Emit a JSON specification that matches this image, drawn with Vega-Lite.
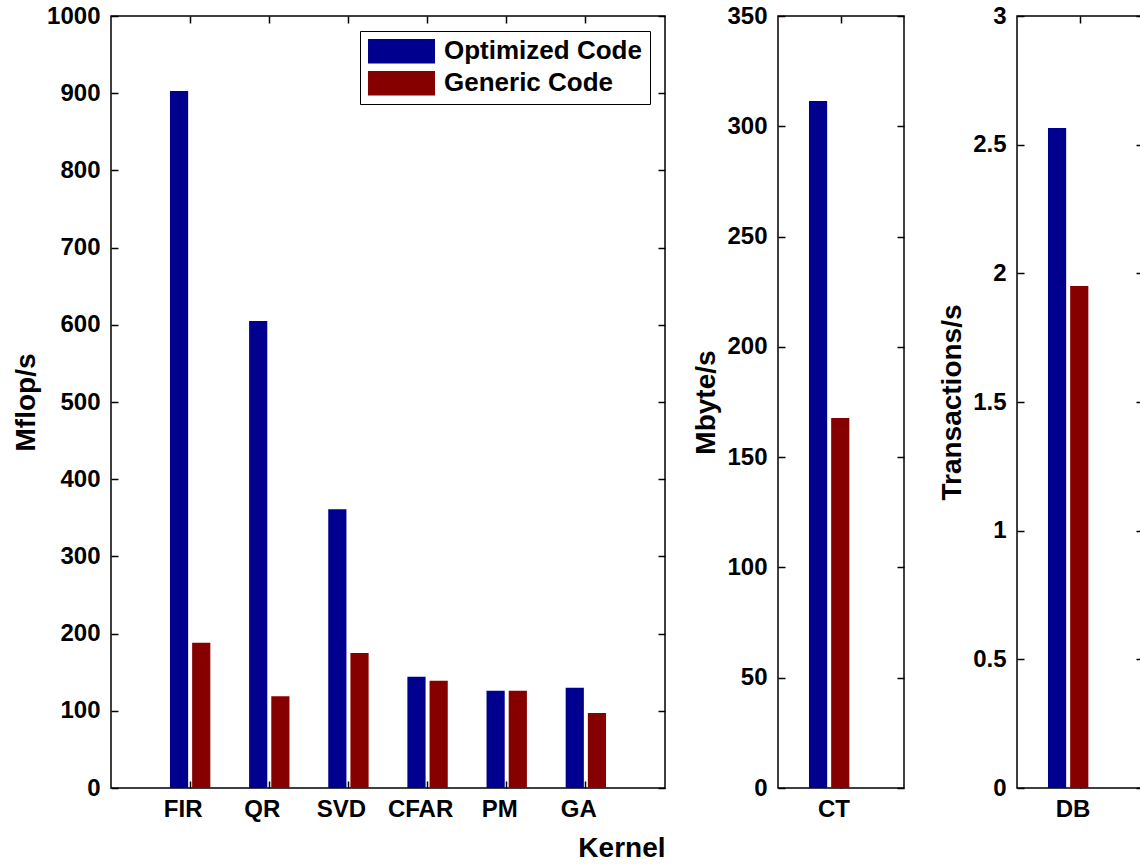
{
  "$schema": "https://vega.github.io/schema/vega-lite/v6.json",
  "background": "white",
  "padding": {"left": 11, "top": 3, "right": 0, "bottom": 0},
  "spacing": 113,
  "bounds": "flush",
  "resolve": {"scale": {"color": "independent"}, "legend": {"color": "independent"}},
  "config": {
    "font": "Liberation Sans",
    "view": {"stroke": "black", "strokeWidth": 1.5},
    "axis": {
      "domain": false,
      "grid": false,
      "ticks": true,
      "zindex": 1,
      "labelFont": "Liberation Sans",
      "labelFontWeight": "bold",
      "labelFontSize": 24,
      "labelColor": "black",
      "titleFont": "Liberation Sans",
      "titleFontWeight": "bold",
      "titleFontSize": 28,
      "titleColor": "black",
      "tickColor": "black",
      "tickWidth": 1.5,
      "tickSize": -7
    },
    "axisY": {"labelPadding": 18, "titlePadding": 6, "format": "d"},
    "axisX": {"labelPadding": 16, "labelAngle": 0, "titlePadding": 13, "labelOffset": -7},
    "legend": {
      "orient": "top-right",
      "offset": 15,
      "labelFont": "Liberation Sans",
      "labelFontWeight": "bold",
      "labelFontSize": 26,
      "labelColor": "black",
      "labelLimit": 400,
      "symbolType": "M-1,-0.37H1V0.37H-1Z",
      "symbolSize": 4489,
      "symbolStrokeWidth": 0,
      "symbolOpacity": 1,
      "strokeColor": "black",
      "fillColor": "white",
      "padding": 8,
      "rowPadding": 6,
      "labelOffset": 9,
      "clipHeight": 24
    }
  },
  "hconcat": [
    {
      "width": 554,
      "height": 772,
      "data": {"values": [
        {"kernel": "FIR", "code": "Optimized Code", "rate": 903},
        {"kernel": "FIR", "code": "Generic Code", "rate": 188},
        {"kernel": "QR", "code": "Optimized Code", "rate": 605},
        {"kernel": "QR", "code": "Generic Code", "rate": 119},
        {"kernel": "SVD", "code": "Optimized Code", "rate": 361},
        {"kernel": "SVD", "code": "Generic Code", "rate": 175},
        {"kernel": "CFAR", "code": "Optimized Code", "rate": 144},
        {"kernel": "CFAR", "code": "Generic Code", "rate": 139},
        {"kernel": "PM", "code": "Optimized Code", "rate": 126},
        {"kernel": "PM", "code": "Generic Code", "rate": 126},
        {"kernel": "GA", "code": "Optimized Code", "rate": 130},
        {"kernel": "GA", "code": "Generic Code", "rate": 97}
      ]},
      "resolve": {"axis": {"x": "independent", "y": "independent"}},
      "layer": [
        {
          "mark": {"type": "bar"},
          "encoding": {
            "x": {"field": "kernel", "type": "nominal", "sort": ["FIR", "QR", "SVD", "CFAR", "PM", "GA"],
                  "scale": {"paddingInner": 0.49, "paddingOuter": 0.745},
                  "axis": {"title": "Kernel", "titleAnchor": "end", "titleAlign": "right", "ticks": true, "tickSize": -7}},
            "xOffset": {"field": "code", "type": "nominal", "sort": ["Optimized Code", "Generic Code"],
                        "scale": {"paddingInner": 0.18, "paddingOuter": 0}},
            "y": {"field": "rate", "type": "quantitative", "scale": {"domain": [0, 1000], "nice": false},
                  "axis": {"title": "Mflop/s", "ticks": true, "tickSize": -7, "values": [0, 100, 200, 300, 400, 500, 600, 700, 800, 900, 1000]}},
            "color": {"field": "code", "type": "nominal", "sort": ["Optimized Code", "Generic Code"],
                      "scale": {"domain": ["Optimized Code", "Generic Code"], "range": ["#00008F", "#870000"]},
                      "legend": {"title": null}}
          }
        },
        {
          "mark": {"type": "point", "opacity": 0, "size": 1},
          "encoding": {
            "x": {"field": "kernel", "type": "nominal", "sort": ["FIR", "QR", "SVD", "CFAR", "PM", "GA"],
                  "axis": {"orient": "top", "labels": false, "title": null, "ticks": true, "tickSize": -7}},
            "y": {"field": "rate", "type": "quantitative",
                  "axis": {"orient": "right", "labels": false, "title": null, "values": [0, 100, 200, 300, 400, 500, 600, 700, 800, 900, 1000]}}
          }
        }
      ]
    },
    {
      "width": 126,
      "height": 772,
      "data": {"values": [
        {"kernel": "CT", "code": "Optimized Code", "rate": 311.5},
        {"kernel": "CT", "code": "Generic Code", "rate": 167.7}
      ]},
      "resolve": {"axis": {"x": "independent", "y": "independent"}},
      "layer": [
        {
          "mark": {"type": "bar"},
          "encoding": {
            "x": {"field": "kernel", "type": "nominal",
                  "scale": {"paddingInner": 0, "paddingOuter": 0.484},
                  "axis": {"title": null, "ticks": true, "tickSize": -7}},
            "xOffset": {"field": "code", "type": "nominal", "sort": ["Optimized Code", "Generic Code"],
                        "scale": {"paddingInner": 0.22, "paddingOuter": 0}},
            "y": {"field": "rate", "type": "quantitative", "scale": {"domain": [0, 350], "nice": false},
                  "axis": {"title": "Mbyte/s", "ticks": true, "tickSize": -7, "values": [0, 50, 100, 150, 200, 250, 300, 350]}},
            "color": {"field": "code", "type": "nominal", "sort": ["Optimized Code", "Generic Code"],
                      "scale": {"domain": ["Optimized Code", "Generic Code"], "range": ["#00008F", "#870000"]},
                      "legend": null}
          }
        },
        {
          "mark": {"type": "point", "opacity": 0, "size": 1},
          "encoding": {
            "x": {"field": "kernel", "type": "nominal",
                  "axis": {"orient": "top", "labels": false, "title": null, "ticks": true, "tickSize": -7}},
            "y": {"field": "rate", "type": "quantitative",
                  "axis": {"orient": "right", "labels": false, "title": null, "values": [0, 50, 100, 150, 200, 250, 300, 350]}}
          }
        }
      ]
    },
    {
      "width": 126,
      "height": 772,
      "data": {"values": [
        {"kernel": "DB", "code": "Optimized Code", "rate": 25650},
        {"kernel": "DB", "code": "Generic Code", "rate": 19510}
      ]},
      "resolve": {"axis": {"x": "independent", "y": "independent"}},
      "layer": [
        {
          "mark": {"type": "bar"},
          "encoding": {
            "x": {"field": "kernel", "type": "nominal",
                  "scale": {"paddingInner": 0, "paddingOuter": 0.484},
                  "axis": {"title": null, "ticks": true, "tickSize": -7}},
            "xOffset": {"field": "code", "type": "nominal", "sort": ["Optimized Code", "Generic Code"],
                        "scale": {"paddingInner": 0.22, "paddingOuter": 0}},
            "y": {"field": "rate", "type": "quantitative", "scale": {"domain": [0, 30000], "nice": false},
                  "axis": {"title": "Transactions/s", "ticks": true, "tickSize": -7, "values": [0, 5000, 10000, 15000, 20000, 25000, 30000],
                           "labelExpr": "'' + (datum.value / 10000)"}},
            "color": {"field": "code", "type": "nominal", "sort": ["Optimized Code", "Generic Code"],
                      "scale": {"domain": ["Optimized Code", "Generic Code"], "range": ["#00008F", "#870000"]},
                      "legend": null}
          }
        },
        {
          "mark": {"type": "point", "opacity": 0, "size": 1},
          "encoding": {
            "x": {"field": "kernel", "type": "nominal",
                  "axis": {"orient": "top", "labels": false, "title": null, "ticks": true, "tickSize": -7}},
            "y": {"field": "rate", "type": "quantitative",
                  "axis": {"orient": "right", "labels": false, "title": null, "values": [0, 5000, 10000, 15000, 20000, 25000, 30000]}}
          }
        }
      ]
    }
  ]
}
